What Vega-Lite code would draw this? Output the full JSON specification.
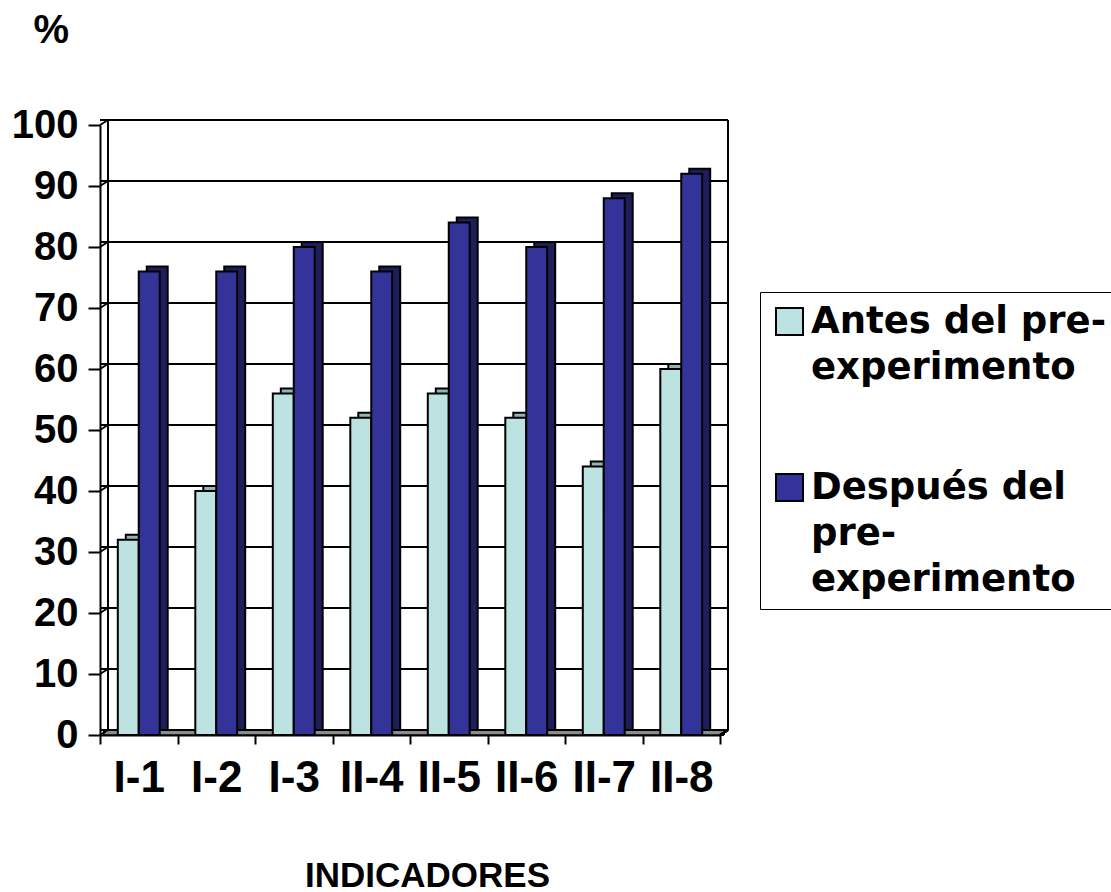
{
  "$schema": "https://vega.github.io/schema/vega-lite/v6.json",
  "autosize": {"type": "none"},
  "padding": {"left": 100, "top": 125, "right": 391, "bottom": 157},
  "width": 620,
  "height": 610,
  "background": "white",
  "config": {
    "view": {"stroke": null},
    "font": "Liberation Sans",
    "style": {"guide-label": {"lineHeight": 46}}
  },
  "datasets": {
    "bars": [
      {"cat": "I-1", "serie": "Antes del pre-experimento", "value": 32},
      {"cat": "I-2", "serie": "Antes del pre-experimento", "value": 40},
      {"cat": "I-3", "serie": "Antes del pre-experimento", "value": 56},
      {"cat": "II-4", "serie": "Antes del pre-experimento", "value": 52},
      {"cat": "II-5", "serie": "Antes del pre-experimento", "value": 56},
      {"cat": "II-6", "serie": "Antes del pre-experimento", "value": 52},
      {"cat": "II-7", "serie": "Antes del pre-experimento", "value": 44},
      {"cat": "II-8", "serie": "Antes del pre-experimento", "value": 60},
      {"cat": "I-1", "serie": "Después del pre-experimento", "value": 76},
      {"cat": "I-2", "serie": "Después del pre-experimento", "value": 76},
      {"cat": "I-3", "serie": "Después del pre-experimento", "value": 80},
      {"cat": "II-4", "serie": "Después del pre-experimento", "value": 76},
      {"cat": "II-5", "serie": "Después del pre-experimento", "value": 84},
      {"cat": "II-6", "serie": "Después del pre-experimento", "value": 80},
      {"cat": "II-7", "serie": "Después del pre-experimento", "value": 88},
      {"cat": "II-8", "serie": "Después del pre-experimento", "value": 92}
    ],
    "grid": [
      {"value": 0}, {"value": 10}, {"value": 20}, {"value": 30}, {"value": 40}, {"value": 50},
      {"value": 60}, {"value": 70}, {"value": 80}, {"value": 90}, {"value": 100}
    ]
  },
  "resolve": {"scale": {"xOffset": "independent"}},
  "layer": [
    {
      "data": {"name": "grid"},
      "mark": {"type": "rect", "color": "#8c8c8c", "stroke": "black", "strokeWidth": 1, "xOffset": 4, "x2Offset": 4, "y2Offset": -5},
      "encoding": {
        "x": {"datum": "I-1", "type": "nominal", "bandPosition": 0},
        "x2": {"datum": "II-8", "bandPosition": 1},
        "y": {"datum": 0, "type": "quantitative"},
        "y2": {"datum": 0}
      }
    },
    {
      "data": {"name": "grid"},
      "mark": {"type": "rule", "color": "black", "strokeWidth": 2, "xOffset": 8, "x2Offset": 8, "yOffset": -5},
      "encoding": {
        "y": {"field": "value", "type": "quantitative", "scale": {"domain": [0, 100], "nice": false}, "title": "%"}
      }
    },
    {
      "data": {"name": "grid"},
      "mark": {"type": "rule", "color": "black", "strokeWidth": 2, "x2Offset": 8, "y2Offset": -5},
      "encoding": {
        "x": {"datum": "I-1", "type": "nominal", "bandPosition": 0},
        "x2": {"datum": "I-1", "bandPosition": 0},
        "y": {"field": "value", "type": "quantitative"},
        "y2": {"field": "value"}
      }
    },
    {
      "data": {"name": "grid"},
      "mark": {"type": "rule", "color": "black", "strokeWidth": 2, "xOffset": 8, "yOffset": -5, "y2Offset": -5},
      "encoding": {
        "x": {"datum": "I-1", "type": "nominal", "bandPosition": 0},
        "y": {"datum": 0, "type": "quantitative"},
        "y2": {"datum": 100}
      }
    },
    {
      "data": {"name": "grid"},
      "mark": {"type": "rule", "color": "black", "strokeWidth": 2, "xOffset": 8, "yOffset": -5, "y2Offset": -5},
      "encoding": {
        "x": {"datum": "II-8", "type": "nominal", "bandPosition": 1},
        "y": {"datum": 0, "type": "quantitative"},
        "y2": {"datum": 100}
      }
    },
    {
      "data": {"name": "grid"},
      "mark": {"type": "rule", "color": "black", "strokeWidth": 2, "x2Offset": 8, "y2Offset": -5},
      "encoding": {
        "x": {"datum": "II-8", "type": "nominal", "bandPosition": 1},
        "x2": {"datum": "II-8", "bandPosition": 1},
        "y": {"datum": 0, "type": "quantitative"},
        "y2": {"datum": 0}
      }
    },
    {
      "data": {"name": "bars"},
      "mark": {"type": "bar", "stroke": "black", "strokeWidth": 2, "yOffset": -5, "y2Offset": -5},
      "encoding": {
        "x": {"field": "cat", "type": "nominal", "scale": {"domain": ["I-1", "I-2", "I-3", "II-4", "II-5", "II-6", "II-7", "II-8"], "paddingInner": 0, "paddingOuter": 0}},
        "xOffset": {"field": "serie", "type": "nominal", "scale": {"domain": ["Antes del pre-experimento", "Después del pre-experimento"], "range": [8, 85.5], "paddingInner": 0, "paddingOuter": 0.85}},
        "y": {"field": "value", "type": "quantitative"},
        "color": {
          "condition": {"test": "datum.serie == 'Antes del pre-experimento'", "value": "#8fb5b5"},
          "value": "#1e1e5a"
        }
      }
    },
    {
      "data": {"name": "bars"},
      "mark": {"type": "bar", "stroke": "black", "strokeWidth": 2},
      "encoding": {
        "x": {
          "field": "cat", "type": "nominal", "title": "INDICADORES",
          "axis": {
            "labelAngle": 0, "labelFontSize": 44, "labelFontWeight": "bold", "labelColor": "black",
            "labelAlign": "center",
            "labelPadding": 34, "tickBand": "extent", "tickSize": 9, "tickWidth": 2, "tickColor": "black",
            "domainColor": "black", "domainWidth": 2,
            "titleFontSize": 35, "titleFontWeight": "bold", "titleColor": "black",
            "titleAlign": "center", "titleBaseline": "alphabetic", "titleX": 327, "titleY": 151
          }
        },
        "xOffset": {"field": "serie", "type": "nominal", "scale": {"domain": ["Antes del pre-experimento", "Después del pre-experimento"], "range": [0, 77.5], "paddingInner": 0, "paddingOuter": 0.85}},
        "y": {
          "field": "value", "type": "quantitative", "title": "%",
          "axis": {
            "values": [0, 10, 20, 30, 40, 50, 60, 70, 80, 90, 100],
            "grid": false, "labelFontSize": 40, "labelFontWeight": "bold", "labelColor": "black",
            "labelPadding": 10, "tickSize": 12, "tickWidth": 2, "tickColor": "black",
            "domainColor": "black", "domainWidth": 2,
            "titleAngle": 0, "titleFontSize": 40, "titleFontWeight": "bold", "titleColor": "black",
            "titleAlign": "left", "titleBaseline": "middle", "titleX": -67, "titleY": -95
          }
        },
        "color": {
          "field": "serie", "type": "nominal",
          "scale": {"domain": ["Antes del pre-experimento", "Después del pre-experimento"], "range": ["#bde2e2", "#333399"]},
          "legend": {
            "title": null, "orient": "none", "legendX": 660, "legendY": 167,
            "strokeColor": "black", "fillColor": "white", "padding": 11,
            "symbolType": "square", "symbolSize": 729, "symbolStrokeColor": "black", "symbolStrokeWidth": 2,
            "labelFont": "DejaVu Sans", "labelFontSize": 37, "labelFontWeight": "bold", "labelColor": "black", "labelLimit": 400,
            "labelOffset": 3,
            "labelExpr": "datum.label == 'Antes del pre-experimento' ? ['Antes del pre-', 'experimento'] : ['Después del', 'pre-', 'experimento']",
            "rowPadding": 82
          }
        }
      }
    }
  ]
}
